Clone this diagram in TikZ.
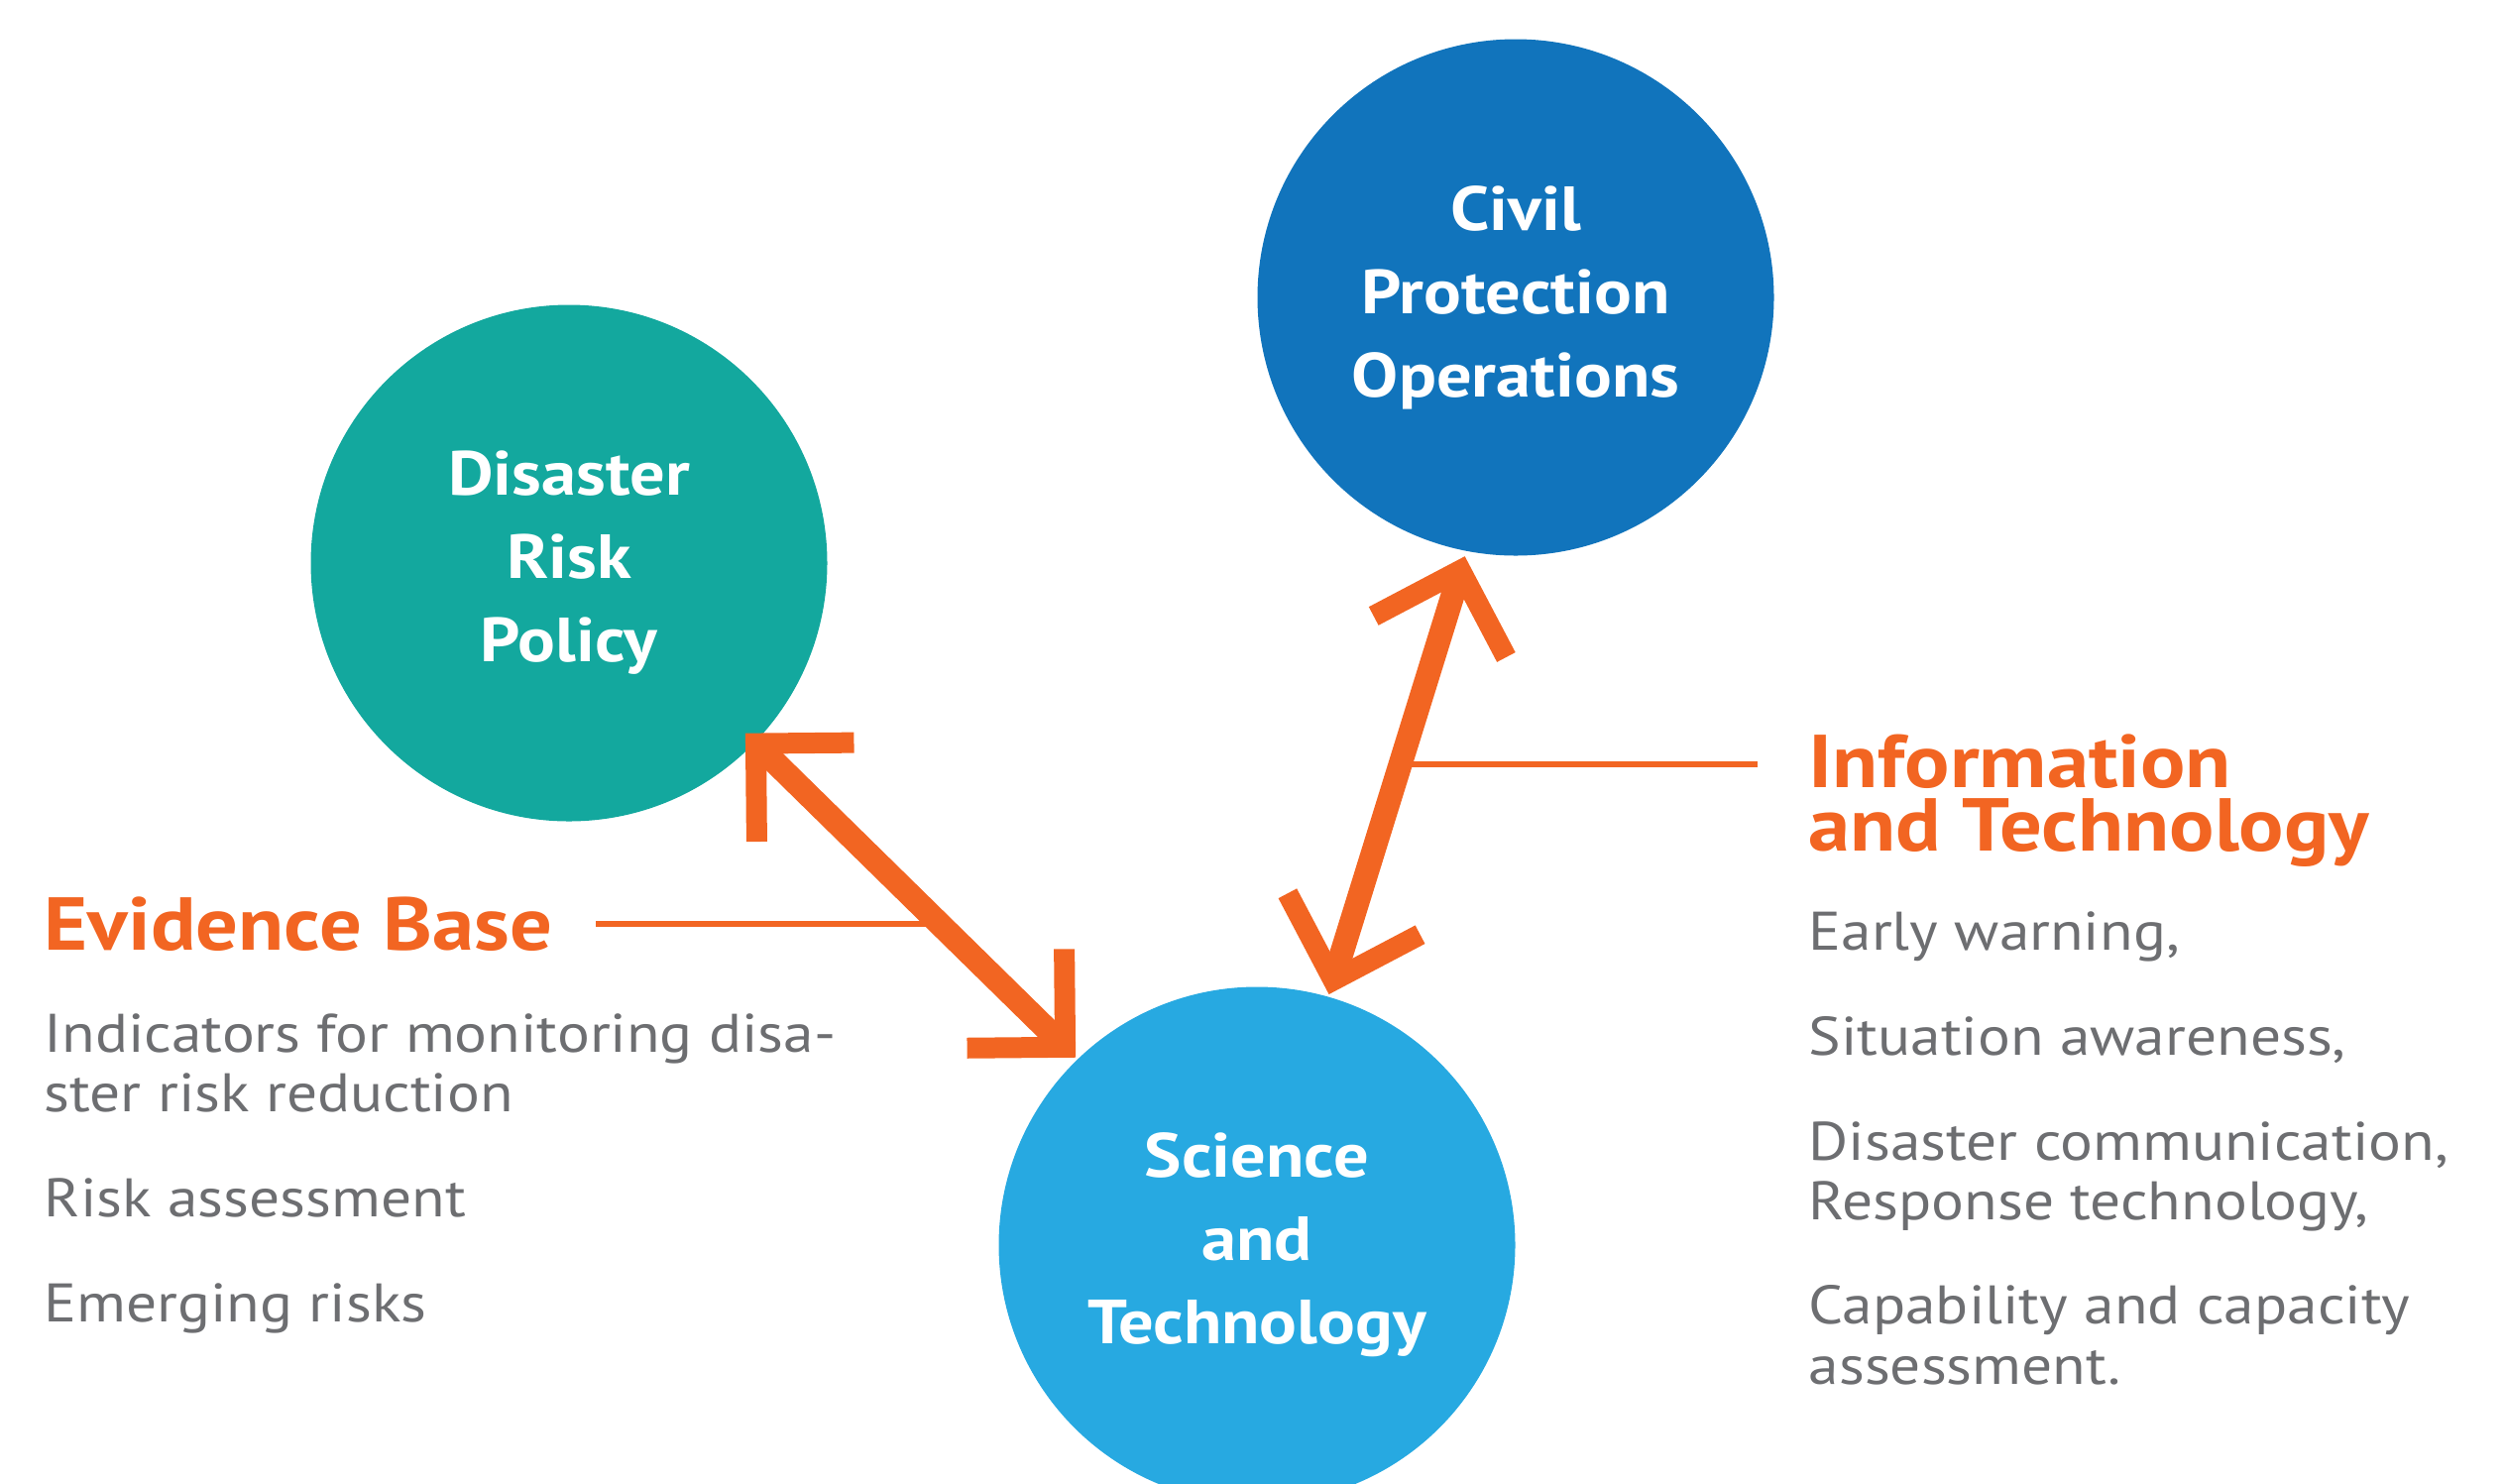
\documentclass[tikz,border=0pt]{standalone}
\usepackage{fontspec}
\setmainfont{PT Sans}[FakeStretch=1.12]
\usetikzlibrary{arrows.meta}
\definecolor{drpteal}{HTML}{13A89E}
\definecolor{cpoblue}{HTML}{1174BC}
\definecolor{stblue}{HTML}{27A9E1}
\definecolor{euorange}{HTML}{F26522}
\definecolor{textgray}{HTML}{6D6E71}

\begin{document}
\begin{tikzpicture}[x=0.1mm,y=-0.1mm,
        bubble/.style={circle,minimum size=52.1mm,inner sep=0pt,text=white,align=center,font=\fontsize{17.9pt}{23.9pt}\selectfont\bfseries},
        head/.style={anchor=base west,align=left,inner sep=0pt,text=euorange,font=\fontsize{21.5pt}{18.2pt}\selectfont\bfseries},
        body/.style={anchor=base west,align=left,inner sep=0pt,text=textgray,font=\fontsize{15.6pt}{17.1pt}\selectfont},
        leader/.style={draw=euorange,line width=0.57mm},
        barb/.tip={Straight Barb[sharp,length=7mm,width=14mm,line width=2.1mm]},
        dblarrow/.style={draw=euorange,line width=2.4mm,barb-barb}]
    \useasboundingbox (0,0) rectangle (2527,1496);
    % the three fields
    \node[bubble,fill=drpteal] (drp) at (574,568) {Disaster\\Risk\\Policy};
    \node[bubble,fill=cpoblue] (cpo) at (1529,300) {Civil\\Protection\\Operations};
    \node[bubble,fill=stblue] (st) at (1268,1256) {Science\\and\\Technology};
    % leaders to the arrows
    \coordinate (ebleft) at (601,932);
    \coordinate (ebright) at (945,932);
    \coordinate (itleft) at (1773,771);
    \coordinate (itright) at (1412,771);
    \draw[leader] (ebleft) -- (ebright);
    \draw[leader] (itleft) -- (itright);
    \draw[dblarrow,shorten <=-1.4mm,shorten >=0.2mm] (drp.-44) -- (st.134.5);
    \draw[dblarrow,shorten <=0.5mm,shorten >=0.2mm] (cpo.-101) -- (st.74);
    % texts (multi-line nodes sit on their last baseline)
    \node[head] (eb) at (44,958) {Evidence Base};
    \node[body] (ebitems) at (44,1333) {Indicators for monitoring disa-\\ster risk reduction\\[13pt]Risk assessment\\[13pt]Emerging risks};
    \node[head] (it) at (1824,858) {Information\\and Technology};
    \node[body] (ititems) at (1824,1396) {Early warning,\\[13pt]Situation awareness,\\[13pt]Disaster communication,\\Response technology,\\[13pt]Capability and capacity\\assessment.};
\end{tikzpicture}
\end{document}
